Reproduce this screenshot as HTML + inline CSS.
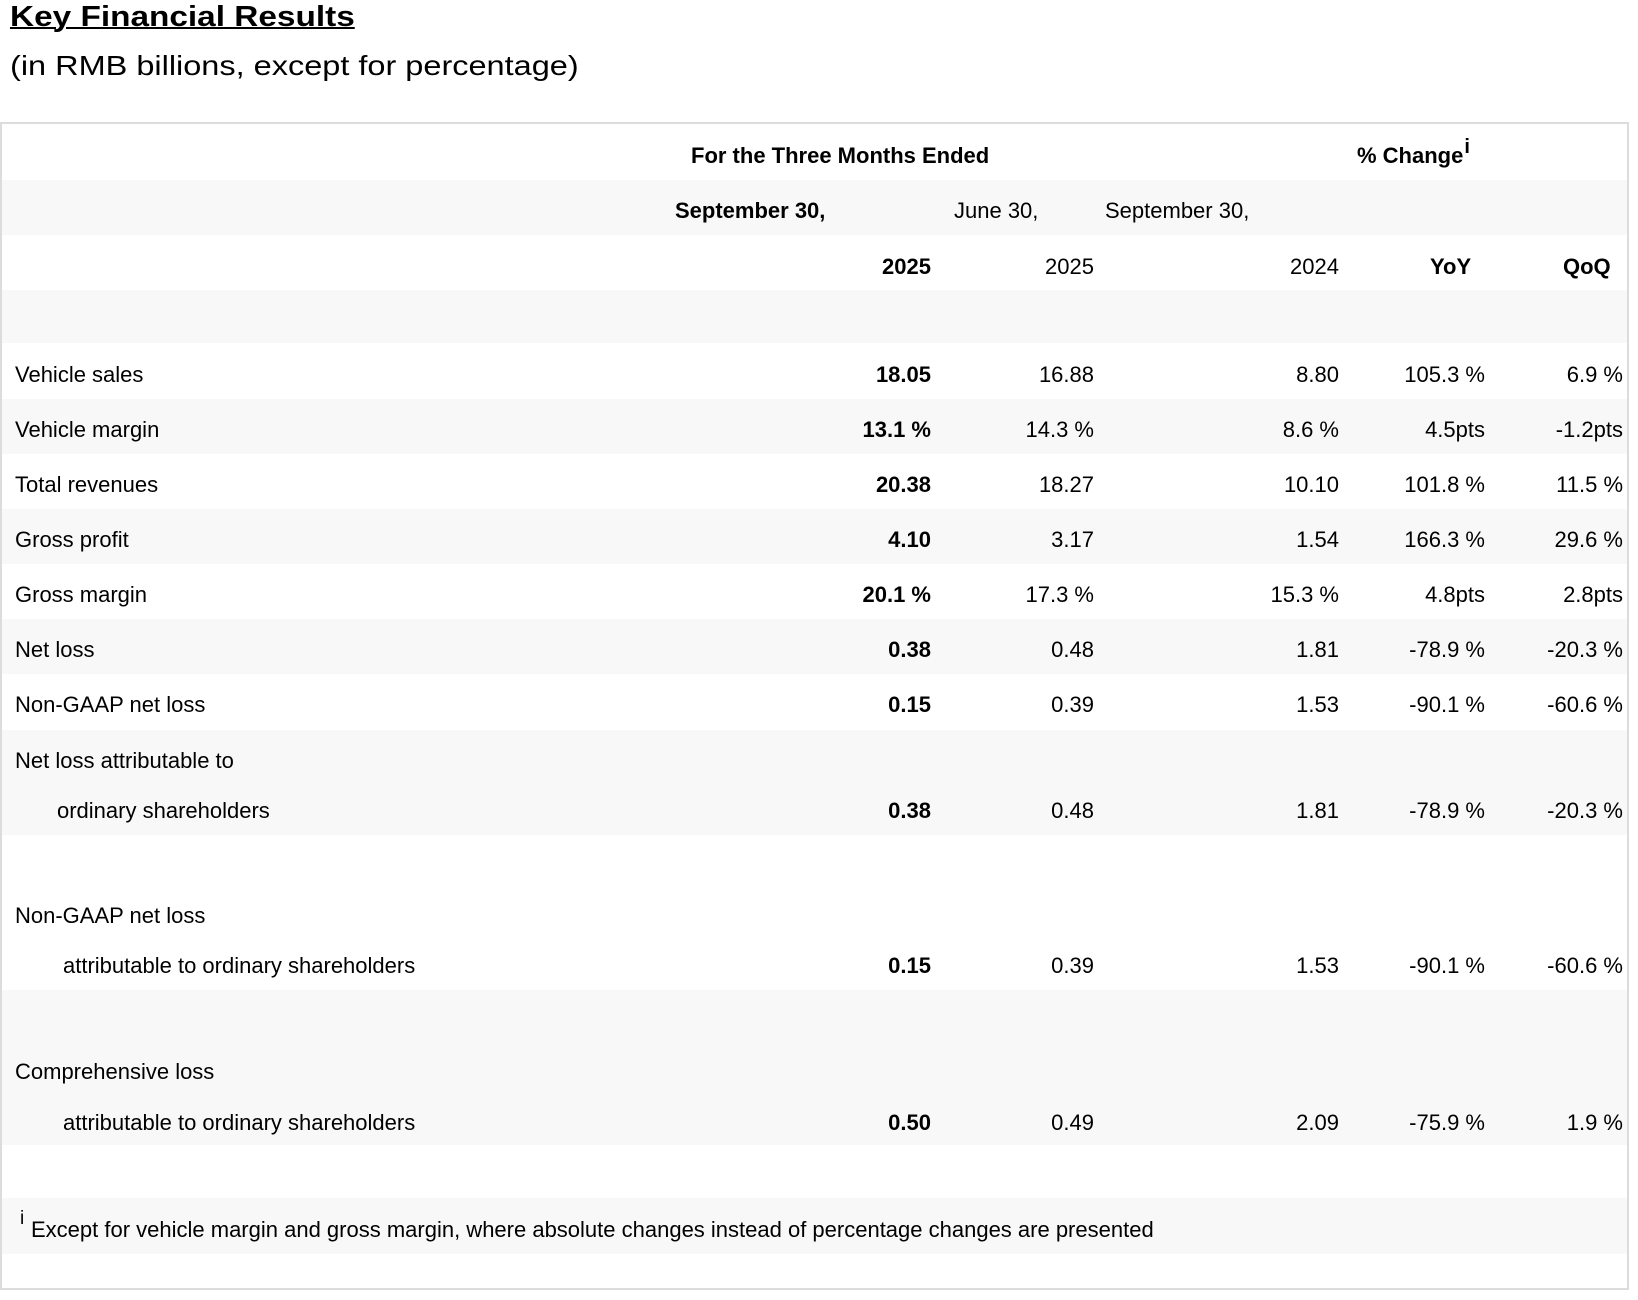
<!DOCTYPE html>
<html><head><meta charset="utf-8"><style>
*{margin:0;padding:0;box-sizing:border-box}
body{width:1638px;height:1300px;background:#fff;position:relative;font-family:"Liberation Sans",Arial,sans-serif;color:#000;overflow:hidden}
.a{position:absolute;white-space:nowrap;font-size:22px;line-height:26px}
.b{font-weight:bold}
.r{text-align:right}
.band{position:absolute;left:2px;width:1625px;background:#f8f8f8}
#tbl{position:absolute;left:0;top:122px;width:1629px;height:1168px;border:2px solid #dcdcdc}
</style></head><body>
<div class="a b" style="left:10px;top:0px;font-size:29px;line-height:34px;text-decoration:underline;text-decoration-thickness:2px;transform:scaleX(1.15);transform-origin:0 0">Key Financial Results</div>
<div class="a" style="left:10px;top:49px;font-size:28px;line-height:34px;transform:scaleX(1.16);transform-origin:0 0">(in RMB billions, except for percentage)</div>
<div id="tbl"></div>
<div class="band" style="top:180px;height:55px"></div>
<div class="band" style="top:290px;height:53px"></div>
<div class="band" style="top:399px;height:55px"></div>
<div class="band" style="top:509px;height:55px"></div>
<div class="band" style="top:619px;height:55px"></div>
<div class="band" style="top:730px;height:105px"></div>
<div class="band" style="top:990px;height:155px"></div>
<div class="band" style="top:1198px;height:56px"></div>

<div class="a b" style="left:691px;top:143px">For the Three Months Ended</div>
<div class="a b" style="left:1357px;top:143px">% Change<span style="font-size:20px;position:relative;top:-10px;margin-left:1px">i</span></div>
<div class="a b" style="left:675px;top:198px">September 30,</div>
<div class="a" style="left:954px;top:198px">June 30,</div>
<div class="a" style="left:1105px;top:198px">September 30,</div>

<div id="rows"></div>
<script>
const cols=[931,1094,1339,1485,1623];
function row(y,label,vals,indent){
  let h='';
  if(label!==null)h+=`<div class="a" style="left:${indent||15}px;top:${y-13}px">${label}</div>`;
  if(vals)vals.forEach((v,i)=>{h+=`<div class="a r${i==0?' b':''}" style="right:${1638-cols[i]}px;top:${y-13}px">${v}</div>`});
  return h;
}
let h='';
h+=`<div class="a b r" style="right:${1638-931}px;top:254px">2025</div>`;
h+=`<div class="a r" style="right:${1638-1094}px;top:254px">2025</div>`;
h+=`<div class="a r" style="right:${1638-1339}px;top:254px">2024</div>`;
h+=`<div class="a b" style="left:1430px;top:254px">YoY</div>`;
h+=`<div class="a b" style="left:1563px;top:254px">QoQ</div>`;
h+=row(375,'Vehicle sales',['18.05','16.88','8.80','105.3 %','6.9 %']);
h+=row(430,'Vehicle margin',['13.1 %','14.3 %','8.6 %','4.5pts','-1.2pts']);
h+=row(485,'Total revenues',['20.38','18.27','10.10','101.8 %','11.5 %']);
h+=row(540,'Gross profit',['4.10','3.17','1.54','166.3 %','29.6 %']);
h+=row(595,'Gross margin',['20.1 %','17.3 %','15.3 %','4.8pts','2.8pts']);
h+=row(650,'Net loss',['0.38','0.48','1.81','-78.9 %','-20.3 %']);
h+=row(705,'Non-GAAP net loss',['0.15','0.39','1.53','-90.1 %','-60.6 %']);
h+=row(761,'Net loss attributable to',null);
h+=row(811,'ordinary shareholders',['0.38','0.48','1.81','-78.9 %','-20.3 %'],57);
h+=row(916,'Non-GAAP net loss',null);
h+=row(966,'attributable to ordinary shareholders',['0.15','0.39','1.53','-90.1 %','-60.6 %'],63);
h+=row(1072,'Comprehensive loss',null);
h+=row(1123,'attributable to ordinary shareholders',['0.50','0.49','2.09','-75.9 %','1.9 %'],63);
document.getElementById('rows').innerHTML=h;
</script>
<div class="a" style="left:20px;top:1206px;font-size:19px">i</div>
<div class="a" style="left:31px;top:1217px">Except for vehicle margin and gross margin, where absolute changes instead of percentage changes are presented</div>
</body></html>
